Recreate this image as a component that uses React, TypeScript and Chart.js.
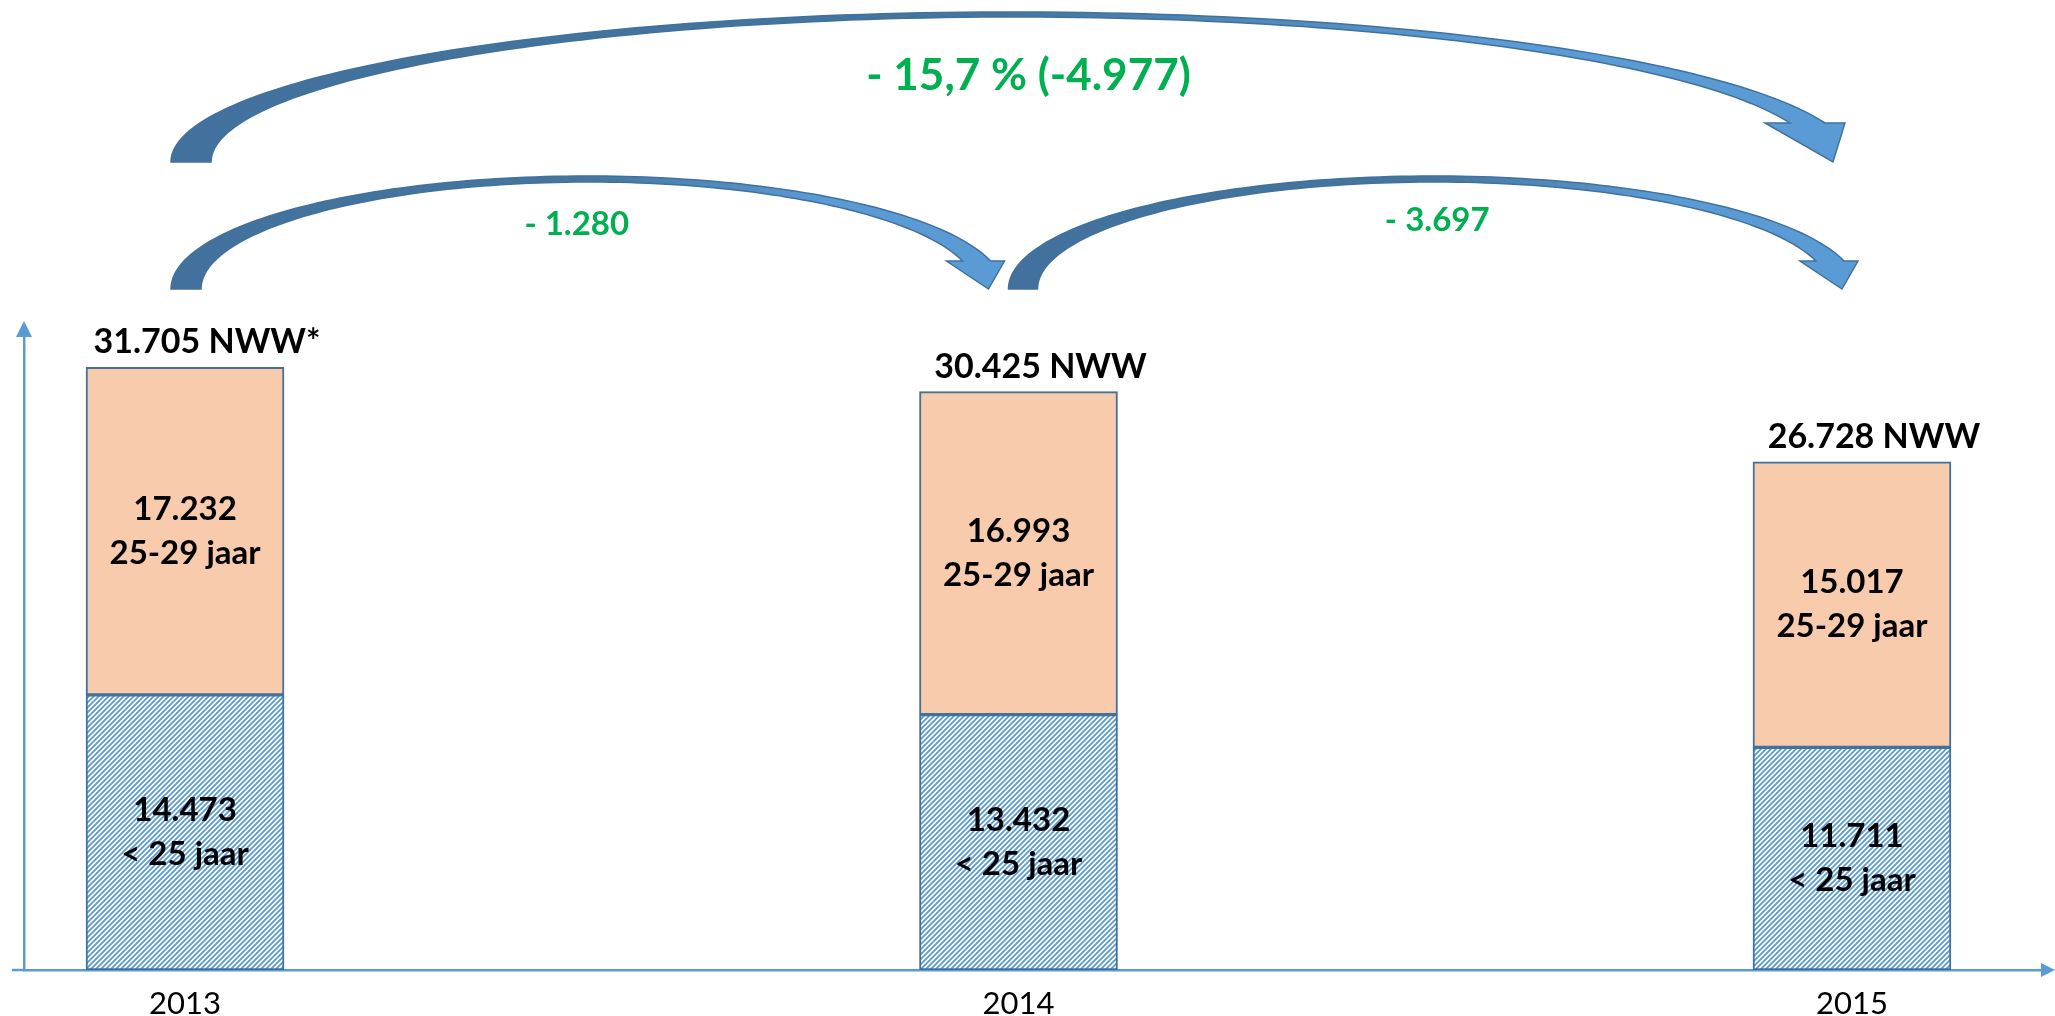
import React, { useEffect, useRef } from 'react';
import { Chart, registerables } from 'chart.js';

Chart.register(...registerables);

// ---- data ----
const years = ['2013', '2014', '2015'];
const under25 = [14473, 13432, 11711];
const age25to29 = [17232, 16993, 15017];
const segmentNames = ['< 25 jaar', '25-29 jaar'];
const totalUnit = 'NWW';
const totalMarks = ['*', '', ''];
// arrows: [from year index, to year index]
const changeLinks: [number, number][] = [
  [0, 1],
  [1, 2],
  [0, 2],
];

// ---- styles ----
const W = 2055;
const H = 1016;
const AXIS = '#5B9BD5';
const BORDER = '#41719C';
const ORANGE = '#F8CBAD';
const GREEN = '#00B050';
const FONT = 'Lato, "Noto Sans", sans-serif';

const fmt = (n: number) =>
  Math.round(Math.abs(n))
    .toString()
    .replace(/\B(?=(\d{3})+(?!\d))/g, '.');

const totals = years.map((_, i) => under25[i] + age25to29[i]);

function ellipsePts(L: number, baseY: number, top: number, endX: number, endY: number, n: number) {
  const ry = baseY - top;
  const s = Math.min(1, (baseY - endY) / ry);
  const c = Math.sqrt(1 - s * s);
  const rx = (endX - L) / (1 + c);
  const cx = L + rx;
  const tEnd = Math.asin(s);
  const pts: [number, number][] = [];
  for (let k = 0; k <= n; k++) {
    const t = Math.PI - ((Math.PI - tEnd) * k) / n;
    pts.push([cx + rx * Math.cos(t), baseY - ry * Math.sin(t)]);
  }
  return pts;
}

type ArrowStyle = {
  w0: number;
  baseY: number;
  topO: number;
  topI: number;
  headY: number;
  tipY: number;
  headL: number;
  headR: number;
  bodyO: number;
  bodyI: number;
  startOff: number;
  tipOff: number;
  labelY: number;
  labelOff: number;
  fontSize: number;
};

const arrowStyles: ArrowStyle[] = [
  { w0: 30, baseY: 289, topO: 176, topI: 182, headY: 261, tipY: 289, headL: -42, headR: 16, bodyO: 2, bodyI: -26, startOff: -14, tipOff: -30, labelY: 224, labelOff: -25, fontSize: 33 },
  { w0: 29, baseY: 289, topO: 176, topI: 182, headY: 261, tipY: 289, headL: -42, headR: 16, bodyO: 2, bodyI: -26, startOff: -10, tipOff: -10, labelY: 220, labelOff: 2, fontSize: 33 },
  { w0: 40, baseY: 162, topO: 12, topI: 17, headY: 123, tipY: 162, headL: -68, headR: 12, bodyO: -8, bodyI: -43, startOff: -14, tipOff: -19, labelY: 76, labelOff: 10, fontSize: 44 },
];

function drawArrow(ctx: CanvasRenderingContext2D, L: number, T: number, s: ArrowStyle) {
  const outer = ellipsePts(L, s.baseY, s.topO, T + s.bodyO, s.headY, 120);
  const inner = ellipsePts(L + s.w0, s.baseY, s.topI, T + s.bodyI, s.headY, 120);
  ctx.save();
  ctx.beginPath();
  ctx.moveTo(outer[0][0], outer[0][1]);
  for (const p of outer) ctx.lineTo(p[0], p[1]);
  ctx.lineTo(T + s.headR, s.headY);
  ctx.lineTo(T, s.tipY);
  ctx.lineTo(T + s.headL, s.headY);
  ctx.lineTo(T + s.bodyI, s.headY);
  for (let k = inner.length - 1; k >= 0; k--) ctx.lineTo(inner[k][0], inner[k][1]);
  ctx.closePath();
  const g = ctx.createLinearGradient(L, 0, T, 0);
  g.addColorStop(0, '#41719C');
  g.addColorStop(0.5, '#44769F');
  g.addColorStop(0.8, '#5B9BD5');
  g.addColorStop(1, '#5B9BD5');
  ctx.fillStyle = g;
  ctx.fill();
  ctx.strokeStyle = BORDER;
  ctx.lineWidth = 1.5;
  ctx.lineJoin = 'miter';
  ctx.stroke();
  ctx.restore();
}

const decorPlugin = {
  id: 'decor',
  afterDatasetsDraw(chart: any) {
    const ctx: CanvasRenderingContext2D = chart.ctx;
    const m0 = chart.getDatasetMeta(0);
    const m1 = chart.getDatasetMeta(1);
    ctx.save();
    ctx.fillStyle = '#000';
    ctx.textAlign = 'center';
    ctx.textBaseline = 'middle';
    ctx.font = `bold 33px ${FONT}`;
    const metas = [m0, m1];
    const vals = [under25, age25to29];
    metas.forEach((meta: any, d: number) => {
      meta.data.forEach((bar: any, i: number) => {
        const cy = (bar.y + bar.base) / 2;
        ctx.fillText(fmt(vals[d][i]), bar.x, cy - 22);
        ctx.fillText(segmentNames[d], bar.x, cy + 22);
      });
    });
    ctx.font = `bold 34px ${FONT}`;
    m1.data.forEach((bar: any, i: number) => {
      ctx.fillText(`${fmt(totals[i])} ${totalUnit}${totalMarks[i]}`, bar.x + 22, bar.y - 25);
    });
    ctx.restore();
  },
  afterDraw(chart: any) {
    const ctx: CanvasRenderingContext2D = chart.ctx;
    const { left, top, right, bottom } = chart.chartArea;
    // axis arrowheads and small left extension of the x axis
    ctx.save();
    ctx.strokeStyle = AXIS;
    ctx.lineWidth = 2.5;
    ctx.beginPath();
    ctx.moveTo(left - 12, bottom);
    ctx.lineTo(left, bottom);
    ctx.stroke();
    ctx.fillStyle = AXIS;
    ctx.beginPath();
    ctx.moveTo(left, top - 15);
    ctx.lineTo(left - 8, top + 1);
    ctx.lineTo(left + 8, top + 1);
    ctx.closePath();
    ctx.fill();
    ctx.beginPath();
    ctx.moveTo(right + 12, bottom);
    ctx.lineTo(right - 2, bottom - 7);
    ctx.lineTo(right - 2, bottom + 7);
    ctx.closePath();
    ctx.fill();
    ctx.restore();

    // change arrows
    const meta = chart.getDatasetMeta(1);
    const xs = meta.data.map((b: any) => b.x);
    changeLinks.forEach(([a, b], k) => {
      const s = arrowStyles[k];
      drawArrow(ctx, xs[a] + s.startOff, xs[b] + s.tipOff, s);
      const diff = totals[b] - totals[a];
      const pct = ((Math.abs(diff) / totals[a]) * 100).toFixed(1).replace('.', ',');
      const label =
        k === 2 ? `${diff < 0 ? '-' : '+'} ${pct} % (${diff < 0 ? '-' : '+'}${fmt(diff)})` : `${diff < 0 ? '-' : '+'} ${fmt(diff)}`;
      ctx.save();
      ctx.fillStyle = GREEN;
      ctx.textAlign = 'center';
      ctx.textBaseline = 'middle';
      ctx.font = `bold ${s.fontSize}px ${FONT}`;
      ctx.fillText(label, (xs[a] + xs[b]) / 2 + s.labelOff, s.labelY);
      ctx.restore();
    });
  },
};

export default function App() {
  const ref = useRef<HTMLCanvasElement | null>(null);

  useEffect(() => {
    const canvas = ref.current;
    if (!canvas) return;
    const ctx = canvas.getContext('2d')!;

    const tile = document.createElement('canvas');
    const p = 5;
    tile.width = p;
    tile.height = p;
    const tg = tile.getContext('2d')!;
    tg.fillStyle = '#ffffff';
    tg.fillRect(0, 0, p, p);
    tg.strokeStyle = '#5B9BD5';
    tg.lineWidth = 1.8;
    tg.beginPath();
    tg.moveTo(-1, p + 1);
    tg.lineTo(p + 1, -1);
    tg.moveTo(-1, 1);
    tg.lineTo(1, -1);
    tg.moveTo(p - 1, p + 1);
    tg.lineTo(p + 1, p - 1);
    tg.stroke();
    const hatch = ctx.createPattern(tile, 'repeat')!;

    const chart = new Chart(ctx, {
      type: 'bar',
      data: {
        datasets: [
          {
            label: segmentNames[0],
            data: under25.map((v, i) => ({ x: i, y: v })),
            backgroundColor: hatch as any,
            borderColor: BORDER,
            borderWidth: 2,
            borderSkipped: false,
            barThickness: 198,
            stack: 's',
          },
          {
            label: segmentNames[1],
            data: age25to29.map((v, i) => ({ x: i, y: v })),
            backgroundColor: ORANGE,
            borderColor: BORDER,
            borderWidth: 2,
            borderSkipped: false,
            barThickness: 198,
            stack: 's',
          },
        ],
      },
      options: {
        responsive: false,
        animation: false,
        devicePixelRatio: 1,
        layout: { padding: { left: 24, top: 336, right: 12, bottom: 0 } },
        plugins: {
          legend: { display: false },
          tooltip: { enabled: false },
        },
        scales: {
          x: {
            type: 'linear',
            stacked: true,
            offset: false,
            min: -0.1932,
            max: 2.2292,
            bounds: 'data',
            grid: { display: false, drawTicks: false },
            border: { display: true, color: AXIS, width: 2.5 },
            afterBuildTicks: (axis: any) => {
              axis.ticks = years.map((_, i) => ({ value: i }));
            },
            afterFit: (axis: any) => {
              axis.height = 46;
            },
            ticks: {
              autoSkip: false,
              maxRotation: 0,
              padding: 15,
              color: '#000',
              font: { family: FONT, size: 31, weight: 'normal' },
              callback: (v: any) => years[v] ?? '',
            },
          },
          y: {
            stacked: true,
            min: 0,
            max: 33350,
            grid: { display: false, drawTicks: false },
            border: { display: true, color: AXIS, width: 2.5 },
            ticks: { display: false },
          },
        },
      },
      plugins: [decorPlugin],
    } as any);

    return () => chart.destroy();
  }, []);

  return (
    <div style={{ position: 'fixed', left: 0, top: 0, width: W, height: H, background: '#fff' }}>
      <canvas ref={ref} width={W} height={H} style={{ width: W, height: H, display: 'block' }} />
    </div>
  );
}
